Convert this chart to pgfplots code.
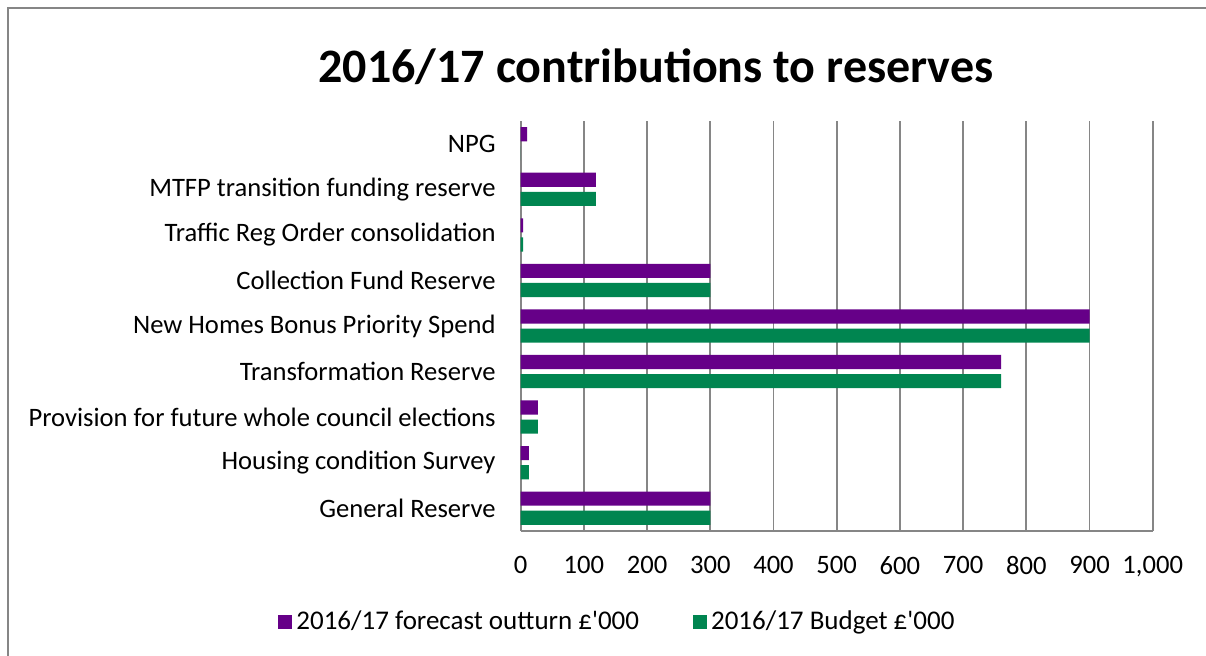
\documentclass[border=0pt]{standalone}
\usepackage{pgfplots}
\pgfplotsset{compat=1.18}
\usepackage{fontspec}
\setmainfont{Carlito}
\definecolor{cpurple}{RGB}{102,0,136}
\definecolor{cgreen}{RGB}{0,133,80}
\definecolor{cgrid}{RGB}{134,134,134}
\begin{document}
\begin{tikzpicture}
\useasboundingbox (0,0) rectangle (603pt,327.5pt);
\draw[cgrid, line width=1pt] (4pt,-5pt) -- (4pt,323.5pt) -- (610pt,323.5pt);
\node[font=\bfseries\fontsize{24}{28}\selectfont] at (328pt,294pt) {2016/17 contributions to reserves};
\begin{axis}[
  at={(260.35pt,62pt)}, anchor=south west,
  scale only axis, width=316pt, height=205pt,
  xmin=0, xmax=1000, ymin=-0.5, ymax=8.5,
  xtick={0,100,...,1000},
  ytick={0,...,8},
  yticklabels={General Reserve, Housing condition Survey, Provision for future whole council elections, Transformation Reserve, New Homes Bonus Priority Spend, Collection Fund Reserve, Traffic Reg Order consolidation\ , MTFP transition funding reserve, NPG},
  xmajorgrids, grid style={cgrid, line width=0.9pt},
  axis x line*=bottom, axis y line*=left,
  axis line style={-, cgrid, line width=0.9pt},
  tick style={draw=none},
  /pgf/number format/assume math mode=true,
  /pgf/number format/1000 sep={,},
  ticklabel style={font=\fontsize{13.3}{16}\selectfont},
  yticklabel style={xshift=-9pt},
  xticklabel style={yshift=-9pt},
  legend columns=2,
  legend style={at={(-0.384,-0.222)}, anchor=west, draw=none, inner sep=0pt,
    font=\fontsize{13.5}{16}\selectfont,
    /tikz/every even column/.append style={column sep=25pt}},
  legend image code/.code={\fill[#1] (0pt,-3.5pt) rectangle (7pt,3.5pt);},
]
\addplot[xbar, bar width=0.31, bar shift=0.21, fill=cpurple, draw=none] coordinates {
 (300,0) (13,1) (27,2) (760,3) (900,4) (300,5) (4,6) (119,7) (10,8)};
\addplot[xbar, bar width=0.31, bar shift=-0.21, fill=cgreen, draw=none] coordinates {
 (300,0) (13,1) (27,2) (760,3) (900,4) (300,5) (4,6) (119,7) (0,8)};
\legend{2016/17 forecast outturn £\textquotesingle 000, 2016/17 Budget £\textquotesingle 000}
\end{axis}
\end{tikzpicture}
\end{document}
